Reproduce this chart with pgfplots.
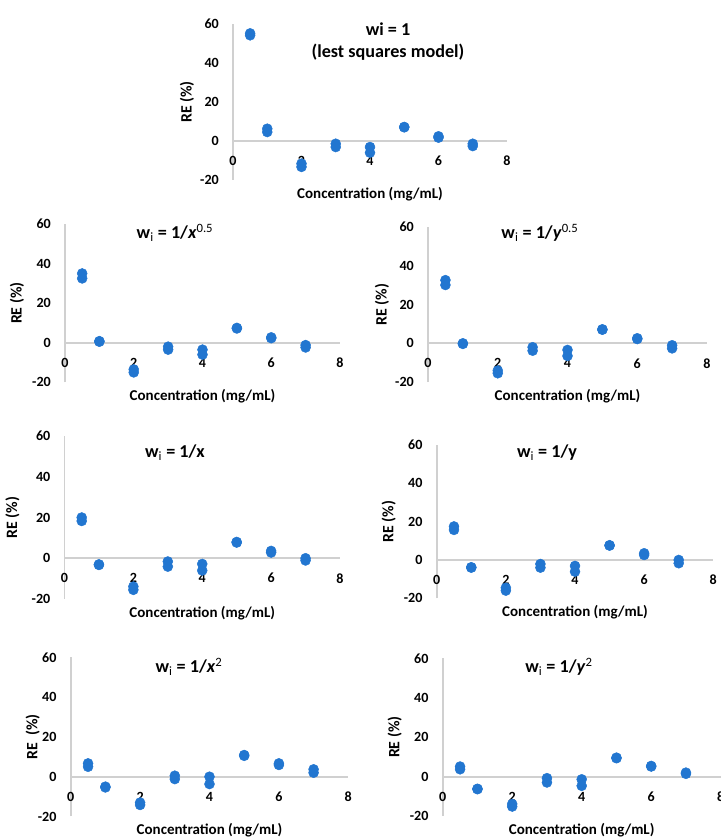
\documentclass[border=0pt]{standalone}
\usepackage{fontspec}
\setmainfont{Carlito}
\usepackage{pgfplots}
\pgfplotsset{compat=1.18}

\definecolor{dot}{RGB}{34,118,208}
\definecolor{axgray}{RGB}{208,208,208}
\newcommand{\tickfont}{\bfseries\fontsize{12}{14}\selectfont}

\pgfplotsset{
  re/.style={
    scale only axis,
    xmin=0, xmax=8, ymin=-20, ymax=60,
    axis lines=middle,
    axis line style={-, draw=axgray, line width=1.6pt},
    xtick={0,2,4,6,8},
    ytick={-20,0,20,40,60},
    major tick length=0pt,
    /pgf/number format/assume math mode=true,
    ticklabel style={font=\tickfont, inner sep=0pt},
    xticklabel style={anchor=center, yshift=-0.6cm},
    yticklabel style={anchor=east, xshift=-0.42cm},
    xlabel={Concentration (mg/mL)},
    ylabel={RE (\%)},
    every axis x label/.style={at={(axis description cs:0.5,0)}, anchor=center,
      yshift=-0.42cm, font=\bfseries\fontsize{12.8}{15}\selectfont},
    every axis y label/.style={at={(axis description cs:0,0.5)}, xshift=-#1*0.03cm,
      rotate=90, anchor=center, font=\bfseries\fontsize{13.5}{15}\selectfont},
    clip=false,
    % the 0 labels at the crossing are dropped by axis lines=middle
    after end axis/.code={
      \node[font=\tickfont, inner sep=0pt, anchor=center] at ([yshift=-0.6cm]axis cs:0,0) {0};
      \node[font=\tickfont, inner sep=0pt, anchor=east] at ([xshift=-0.42cm]axis cs:0,0) {0};
    },
  },
  re/.default=47,
  dots/.style={only marks, mark=*, mark size=0.15cm, color=dot,
    mark options={draw=dot, fill=dot}},
}

\begin{document}
\begin{tikzpicture}
\useasboundingbox (0,0) rectangle (21.63,25.14);

% wi = 1
\begin{scope}[shift={(6.99,19.74)}]
\begin{axis}[re=46, width=8.22cm, height=4.68cm]
\addplot[dots] coordinates {(0.5,54.2)(0.5,55.2)(1,6.3)(1,4.6)(2,-11.6)(2,-13.3)(3,-1.4)(3,-3.1)
  (4,-3.1)(4,-6)(5,7.2)(5,7.0)(6,2.4)(6,1.7)(7,-1.4)(7,-2.6)};
\end{axis}
\end{scope}

% 1/x^0.5
\begin{scope}[shift={(1.95,13.671)}]
\begin{axis}[re=48, width=8.25cm, height=4.749cm]
\addplot[dots] coordinates {(0.5,35)(0.5,32.5)(1,0.5)(1,0.8)(2,-13.5)(2,-15)(3,-2)(3,-3.5)
  (4,-3.5)(4,-6)(5,7.2)(5,7.5)(6,2.7)(6,2.3)(7,-1.2)(7,-2.4)};
\end{axis}
\end{scope}

% 1/y^0.5
\begin{scope}[shift={(12.84,13.674)}]
\begin{axis}[re=46, width=8.37cm, height=4.665cm]
\addplot[dots] coordinates {(0.5,32.5)(0.5,30)(1,-0.3)(1,0)(2,-14)(2,-15.4)(3,-2)(3,-3.8)
  (4,-3.4)(4,-6.5)(5,7.2)(5,7)(6,2.6)(6,2.2)(7,-1)(7,-2.6)};
\end{axis}
\end{scope}

% 1/x
\begin{scope}[shift={(1.935,7.17)}]
\begin{axis}[re=52, width=8.265cm, height=4.89cm]
\addplot[dots] coordinates {(0.5,20)(0.5,18.3)(1,-3.3)(1,-3)(2,-13.9)(2,-15.5)(3,-1.6)(3,-4.1)
  (4,-2.8)(4,-6)(5,7.7)(5,8)(6,3.6)(6,2.8)(7,0)(7,-1.1)};
\end{axis}
\end{scope}

% 1/y
\begin{scope}[shift={(13.101,7.191)}]
\begin{axis}[re=48, width=8.298cm, height=4.599cm]
\addplot[dots] coordinates {(0.5,17.5)(0.5,15.7)(1,-4)(1,-3.8)(2,-14.5)(2,-16)(3,-2.1)(3,-4)
  (4,-3.1)(4,-6.1)(5,7.7)(5,7.5)(6,3.5)(6,2.6)(7,0)(7,-1.7)};
\end{axis}
\end{scope}

% 1/x^2
\begin{scope}[shift={(2.121,0.645)}]
\begin{axis}[re=38, width=8.328cm, height=4.776cm, ylabel={RE\ \ (\%)}]
\addplot[dots] coordinates {(0.5,6.7)(0.5,5)(1,-5.4)(1,-5)(2,-13)(2,-14.2)(3,0.5)(3,-1.2)
  (4,0)(4,-3.7)(5,10.9)(5,10.5)(6,6.7)(6,5.9)(7,3.7)(7,2)};
\end{axis}
\end{scope}

% 1/y^2
\begin{scope}[shift={(13.281,0.66)}]
\begin{axis}[re=48, width=8.34cm, height=4.731cm]
\addplot[dots] coordinates {(0.5,5.1)(0.5,3.7)(1,-6.4)(1,-6.2)(2,-13.9)(2,-15.2)(3,-0.8)(3,-3)
  (4,-1.4)(4,-4.7)(5,9.6)(5,9.3)(6,5.4)(6,5.1)(7,2)(7,1.4)};
\end{axis}
\end{scope}

\begin{scope}[x=0.03cm, y=0.03cm, every node/.style={font=\bfseries\fontsize{15.5}{18.7}\selectfont, inner sep=0pt}]
\node[align=center] at (388,796.5) {wi = 1\\(lest squares model)};
\node at (175,605) {w\textsubscript{\mdseries i} = 1/\textit{x}\textsuperscript{\mdseries 0.5}};
\node at (540,605) {w\textsubscript{\mdseries i} = 1/\textit{y}\textsuperscript{\mdseries 0.5}};
\node at (175,385) {w\textsubscript{\mdseries i} = 1/x};
\node at (547,385) {w\textsubscript{\mdseries i} = 1/y};
\node at (189,171) {w\textsubscript{\mdseries i} = 1/\textit{x}\textsuperscript{\mdseries 2}};
\node at (559,171) {w\textsubscript{\mdseries i} = 1/\textit{y}\textsuperscript{\mdseries 2}};
\end{scope}
\end{tikzpicture}
\end{document}
